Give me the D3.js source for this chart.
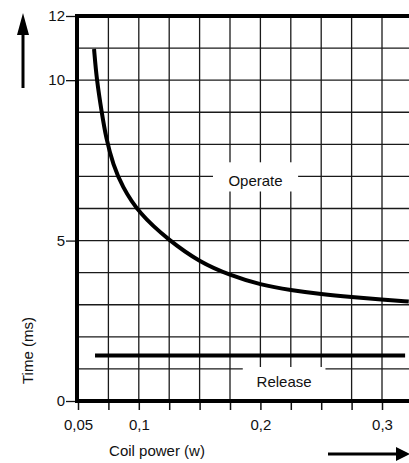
<!DOCTYPE html>
<html>
<head>
<meta charset="utf-8">
<script src="https://cdn.jsdelivr.net/npm/d3@7"></script>
<style>
  body { margin: 0; background: #fff; }
  text { font-family: "Liberation Sans", Arial, sans-serif; fill: #111; }
</style>
</head>
<body>
<svg id="chart"></svg>
<script>
// operate curve (coil power in W, time in ms)
const operatePower = [0.0632, 0.0654, 0.0695, 0.073, 0.079, 0.0862, 0.1, 0.125, 0.15, 0.175, 0.2, 0.225, 0.25, 0.275, 0.3, 0.322];
const operateTime  = [10.97, 10.0, 9.0, 8.2, 7.35, 6.7, 5.85, 5.0, 4.33, 3.92, 3.62, 3.45, 3.33, 3.24, 3.16, 3.1];
// release line
const releasePower = [0.064, 0.319];
const releaseTime  = [1.42, 1.42];

const xTicks = [0.05, 0.075, 0.1, 0.125, 0.15, 0.175, 0.2, 0.225, 0.25, 0.275, 0.3];
const xLabels = [0.05, 0.1, 0.2, 0.3];
const yTicks = [0, 5, 10, 12];
const yGrid = [1, 2, 3, 4, 5, 6, 7, 8, 9, 10, 11];

const W = 409, H = 463;
const m = { top: 16, left: 78, bottom: 401 };

const svg = d3.select('#chart').attr('width', W).attr('height', H);

const x = d3.scaleLinear().domain([0.05, 0.3222]).range([m.left, W]);
const y = d3.scaleLinear().domain([0, 12]).range([m.bottom, m.top]);

const fmt = d => String(d).replace('.', ',');

// grid
const grid = svg.append('g').attr('stroke', '#1a1a1a').attr('stroke-width', 1.3);
grid.selectAll('.vg').data(xTicks.slice(1).concat([0.325]))
    .join('line')
    .attr('x1', d => x(d)).attr('x2', d => x(d))
    .attr('y1', y(12)).attr('y2', y(0));
grid.selectAll('.hg').data(yGrid)
    .join('line')
    .attr('x1', x(0.05)).attr('x2', W)
    .attr('y1', d => y(d)).attr('y2', d => y(d));

// white patches behind the two labels (grid is broken there)
svg.append('rect')
    .attr('x', x(0.161)).attr('y', y(7.44))
    .attr('width', x(0.231) - x(0.161)).attr('height', y(6.53) - y(7.44))
    .attr('fill', '#fff');
svg.append('rect')
    .attr('x', x(0.1855)).attr('y', y(1.06))
    .attr('width', x(0.2535) - x(0.1855)).attr('height', y(0) - y(1.06))
    .attr('fill', '#fff');

// axes
const xAxis = d3.axisBottom(x)
    .tickValues(xTicks)
    .tickSize(9)
    .tickPadding(9)
    .tickFormat(d => xLabels.some(v => Math.abs(v - d) < 1e-9) ? fmt(d) : '');
const gx = svg.append('g').attr('transform', `translate(0,${y(0)})`).call(xAxis);
gx.select('.domain').remove();
gx.selectAll('line').attr('stroke', '#111').attr('stroke-width', 1.5);
gx.selectAll('text').attr('font-size', 15).attr('fill', '#111');

const yAxis = d3.axisLeft(y)
    .tickValues(yTicks)
    .tickSize(12)
    .tickPadding(1)
    .tickFormat(d => d);
const gy = svg.append('g').attr('transform', `translate(${x(0.05)},0)`).call(yAxis);
gy.select('.domain').remove();
gy.selectAll('line').attr('stroke', '#111').attr('stroke-width', 1.3);
gy.selectAll('text').attr('font-size', 15).attr('fill', '#111');

// frame: left, bottom, top
const frame = svg.append('g').attr('stroke', '#000').attr('stroke-width', 4);
frame.append('line').attr('x1', x(0.05) - 1).attr('x2', x(0.05) - 1).attr('y1', y(12) - 2).attr('y2', y(0) + 2);
frame.append('line').attr('x1', x(0.05) - 3).attr('x2', W).attr('y1', y(0)).attr('y2', y(0));
frame.append('line').attr('x1', x(0.05) - 3).attr('x2', W).attr('y1', y(12)).attr('y2', y(12));

// curves
const operate = operatePower.map((p, i) => [p, operateTime[i]]);
const release = releasePower.map((p, i) => [p, releaseTime[i]]);
const line = d3.line().x(d => x(d[0])).y(d => y(d[1])).curve(d3.curveBasis);

svg.append('path').datum(operate)
    .attr('d', line)
    .attr('fill', 'none').attr('stroke', '#000').attr('stroke-width', 4);
svg.append('path').datum(release)
    .attr('d', line)
    .attr('fill', 'none').attr('stroke', '#000').attr('stroke-width', 4);

// labels
svg.append('text').attr('x', x(0.196)).attr('y', y(6.7))
    .attr('text-anchor', 'middle').attr('font-size', 15).text('Operate');
svg.append('text').attr('x', x(0.2195)).attr('y', y(0.44))
    .attr('text-anchor', 'middle').attr('font-size', 15).text('Release');

svg.append('text').attr('x', 157).attr('y', 456)
    .attr('text-anchor', 'middle').attr('font-size', 15).text('Coil power (w)');
svg.append('text').attr('transform', 'translate(33,384) rotate(-90)')
    .attr('text-anchor', 'start').attr('font-size', 15).text('Time (ms)');

// arrows
svg.append('line').attr('x1', 23).attr('x2', 23).attr('y1', 88).attr('y2', 30)
    .attr('stroke', '#000').attr('stroke-width', 3);
svg.append('path').attr('d', 'M23,13 L17,35 L29,35 Z').attr('fill', '#000');
svg.append('line').attr('x1', 328).attr('x2', 400).attr('y1', 454).attr('y2', 454)
    .attr('stroke', '#000').attr('stroke-width', 3);
svg.append('path').attr('d', 'M410,454 L396,447 L396,461 Z').attr('fill', '#000');
</script>
</body>
</html>
